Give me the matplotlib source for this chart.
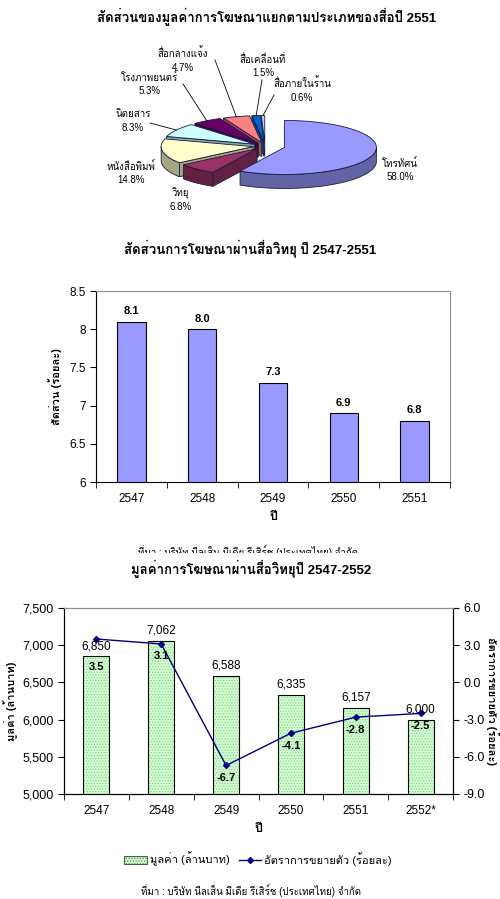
import numpy as np
import matplotlib
matplotlib.use('Agg')
import matplotlib.pyplot as plt
from matplotlib import font_manager
from matplotlib.patches import Polygon, Patch
from matplotlib.lines import Line2D
from matplotlib.colors import to_rgb

# data
pie_labels = ['โทรทัศน์', 'วิทยุ', 'หนังสือพิมพ์', 'นิตยสาร', 'โรงภาพยนตร์',
              'สื่อกลางแจ้ง', 'สื่อเคลื่อนที่', 'สื่อภายในร้าน']
pie_share = [58.0, 6.8, 14.8, 8.3, 5.3, 4.7, 1.5, 0.6]

radio_years = ['2547', '2548', '2549', '2550', '2551']
radio_share = [8.1, 8.0, 7.3, 6.9, 6.8]

value_years = ['2547', '2548', '2549', '2550', '2551', '2552*']
radio_value = [6850, 7062, 6588, 6335, 6157, 6000]
radio_growth = [3.5, 3.1, -6.7, -4.1, -2.8, -2.5]


def find_thai_font():
    try:
        from fontTools.ttLib import TTFont
    except ImportError:
        return None
    found = {}
    for f in font_manager.fontManager.ttflist:
        try:
            tt = TTFont(f.fname, fontNumber=0, lazy=True)
            cmap = tt.getBestCmap() or {}
            tt.close()
        except Exception:
            continue
        if 0x0E01 in cmap and 0x0E2A in cmap:
            w = f.weight if isinstance(f.weight, int) else 400
            found.setdefault(f.name, set()).add(w)
    if not found:
        return None
    pref = ['Tahoma', 'Noto Sans Thai', 'Noto Sans Thai UI', 'Loma', 'Garuda',
            'Sawasdee', 'Umpush', 'Kinnari', 'Norasi']
    bold = [n for n in found if max(found[n]) >= 600]
    for pool in (bold, list(found)):
        for p in pref:
            if p in pool:
                return p
        if pool:
            return sorted(pool)[0]
    return None


thai = find_thai_font()
fams = ['Liberation Sans']
if thai:
    fams.append(thai)
fams.append('DejaVu Sans')
plt.rcParams['font.family'] = fams
plt.rcParams['hatch.linewidth'] = 0.5

W, H = 500, 899
fig = plt.figure(figsize=(W / 100, H / 100), dpi=100)


def fy(y):
    return 1 - y / H


# ---------- panel 1 : 3D pie ----------
axp = fig.add_axes([0, fy(230), 1, 230 / H])
axp.set_xlim(0, W)
axp.set_ylim(230, 0)
axp.axis('off')

axp.text(267, 17, 'สัดส่วนของมูลค่าการโฆษณาแยกตามประเภทของสื่อปี 2551',
         ha='center', va='center', fontsize=9.5, fontweight='bold')

pie_colors = ['#9999FF', '#993366', '#FFFFCC', '#CCFFFF', '#660066',
              '#FF8080', '#0066CC', '#CCCCFF']
cx, cy, rx, ry, depth = 265, 146, 92, 27, 14
explode = [20, 12, 12, 12, 12, 12, 12, 12]
edge = '#1a1a40'


def darker(c, f=0.65):
    return tuple(v * f for v in to_rgb(c))


ang = np.concatenate([[0], np.cumsum(pie_share)]) / sum(pie_share) * 360
sides = []
tops = []
mids = []
for i in range(len(pie_share)):
    a1, a2 = ang[i], ang[i + 1]
    mid = np.radians((a1 + a2) / 2)
    px = cx + explode[i] * np.sin(mid)
    py = cy - explode[i] * np.cos(mid) * ry / rx

    def P(t, dz=0, px=px, py=py):
        t = np.radians(t)
        return (px + rx * np.sin(t), py - ry * np.cos(t) + dz)

    arc = np.linspace(a1, a2, max(int(a2 - a1), 2) + 1)
    tops.append(([(px, py)] + [P(t) for t in arc], pie_colors[i]))
    mids.append(P((a1 + a2) / 2))
    sc = darker(pie_colors[i])
    lo, hi = max(a1, 90), min(a2, 270)
    if hi > lo:
        seg = np.linspace(lo, hi, max(int(hi - lo), 2) + 1)
        wall = [P(t) for t in seg] + [P(t, depth) for t in seg[::-1]]
        sides.append((np.mean([p[1] for p in wall]), wall, sc))
    if np.sin(np.radians(a1)) < -1e-6:
        f = [(px, py), P(a1), P(a1, depth), (px, py + depth)]
        sides.append((np.mean([p[1] for p in f]), f, sc))
    if np.sin(np.radians(a2)) > 1e-6:
        f = [(px, py), P(a2), P(a2, depth), (px, py + depth)]
        sides.append((np.mean([p[1] for p in f]), f, sc))

for key, verts, col in sorted(sides, key=lambda s: s[0]):
    axp.add_patch(Polygon(verts, closed=True, facecolor=col, edgecolor=edge, lw=0.6))
for verts, col in tops:
    axp.add_patch(Polygon(verts, closed=True, facecolor=col, edgecolor=edge, lw=0.6))

label_pos = [(400, 170), (181, 200), (131, 173), (133, 121), (150, 84),
             (183, 60), (263, 66), (302, 90)]
leader_start = [None, None, None, (150, 123), (183, 84), (215, 60), (262, 80), (274, 95)]
for i, lab in enumerate(pie_labels):
    x, y = label_pos[i]
    axp.text(x, y, '%s\n%.1f%%' % (lab, pie_share[i]), ha='center', va='center',
             fontsize=7, linespacing=1.4)
    if leader_start[i] is not None:
        sx, sy = leader_start[i]
        ex, ey = mids[i]
        axp.plot([sx, ex], [sy, ey], color='black', lw=0.6)

# ---------- panel 2 : radio share bars ----------
fig.text(250 / W, fy(248), 'สัดส่วนการโฆษณาผ่านสื่อวิทยุ ปี 2547-2551',
         ha='center', va='center', fontsize=9.5, fontweight='bold')
ax2 = fig.add_axes([96 / W, fy(482), 354 / W, 191 / H])
x2 = np.arange(len(radio_years))
ax2.bar(x2, radio_share, width=0.4, color='#9999FF', edgecolor='black', lw=0.8)
for xi, v in zip(x2, radio_share):
    ax2.annotate('%.1f' % v, (xi, v), xytext=(0, 4), textcoords='offset points',
                 ha='center', va='bottom', fontsize=8, fontweight='bold')
ax2.set_ylim(6, 8.5)
ax2.set_xlim(-0.5, len(radio_years) - 0.5)
ax2.set_yticks([6, 6.5, 7, 7.5, 8, 8.5])
ax2.set_yticklabels(['6', '6.5', '7', '7.5', '8', '8.5'])
ax2.set_xticks(x2)
ax2.set_xticklabels(radio_years)
ax2.set_xticks(np.arange(-0.5, len(radio_years)), minor=True)
ax2.tick_params(axis='x', which='major', length=0, labelsize=8.5, pad=8)
ax2.tick_params(axis='x', which='minor', length=4, direction='out')
ax2.tick_params(axis='y', length=4, direction='out', labelsize=8.5)
for s in ['top', 'right']:
    ax2.spines[s].set_color('#909090')
ax2.set_xlabel('ปี', fontsize=9, fontweight='bold', labelpad=4)
ax2.set_ylabel('สัดส่วน (ร้อยละ)', fontsize=8, fontweight='bold', labelpad=5)

axc = fig.add_axes([0, fy(553), 1, 20 / H])
axc.axis('off')
axc.set_xlim(0, W)
axc.set_ylim(553, 533)
axc.text(248, 551, 'ที่มา : บริษัท นีลเส็น มีเดีย รีเสิร์ช (ประเทศไทย) จำกัด',
         ha='center', va='center', fontsize=7, clip_on=True)

# ---------- panel 3 : radio value and growth ----------
fig.text(251 / W, fy(569), 'มูลค่าการโฆษณาผ่านสื่อวิทยุปี 2547-2552',
         ha='center', va='center', fontsize=9.5, fontweight='bold')
ax3 = fig.add_axes([64 / W, fy(794), 389 / W, 186 / H])
x3 = np.arange(len(value_years))
ax3.bar(x3, radio_value, width=0.4, color='#CCFFCC', edgecolor='#9ABF9A',
        hatch='......', lw=0)
ax3.bar(x3, radio_value, width=0.4, fill=False, edgecolor='black', lw=0.8)
for xi, v in zip(x3, radio_value):
    ax3.annotate('{:,}'.format(v), (xi, v), xytext=(0, 3), textcoords='offset points',
                 ha='center', va='bottom', fontsize=8.5)
ax3.set_ylim(5000, 7500)
ax3.set_xlim(-0.5, len(value_years) - 0.5)
ax3.set_yticks(np.arange(5000, 7501, 500))
ax3.set_yticklabels(['{:,}'.format(v) for v in range(5000, 7501, 500)])
ax3.set_xticks(x3)
ax3.set_xticklabels(value_years)
ax3.set_xticks(np.arange(-0.5, len(value_years)), minor=True)
ax3.tick_params(axis='x', which='major', length=0, labelsize=8.5, pad=8)
ax3.tick_params(axis='x', which='minor', length=4, direction='out')
ax3.tick_params(axis='y', length=4, direction='out', labelsize=9)
ax3.spines['top'].set_color('#909090')
ax3.set_xlabel('ปี', fontsize=9, fontweight='bold', labelpad=4)
ax3.set_ylabel('มูลค่า (ล้านบาท)', fontsize=8, fontweight='bold', labelpad=3)

ax3b = ax3.twinx()
ax3b.plot(x3, radio_growth, color='#000080', lw=1, marker='D', ms=3)
ax3b.set_ylim(-9, 6)
ax3b.set_yticks(np.arange(-9, 7, 3))
ax3b.set_yticklabels(['%.1f' % v for v in np.arange(-9, 7, 3)])
ax3b.tick_params(axis='y', length=4, direction='out', labelsize=9)
ax3b.spines['top'].set_color('#909090')
ax3b.set_ylabel('อัตราการขยายตัว (ร้อยละ)', fontsize=8, fontweight='bold',
                rotation=-90, labelpad=11)
growth_offset = [-20, -9, -9, -9, -9, -9]
for xi, v, off in zip(x3, radio_growth, growth_offset):
    ax3b.annotate('%.1f' % v, (xi, v), xytext=(0, off), textcoords='offset points',
                  ha='center', va='center', fontsize=8, fontweight='bold')

handles = [Patch(facecolor='#CCFFCC', edgecolor='#555555', hatch='......', lw=0.8),
           Line2D([], [], color='#000080', lw=1, marker='D', ms=3)]
fig.legend(handles, ['มูลค่า (ล้านบาท)', 'อัตราการขยายตัว (ร้อยละ)'],
           loc='center', bbox_to_anchor=(258 / W, fy(859)), ncol=2, frameon=False,
           fontsize=8, handlelength=2.0, columnspacing=0.8, handletextpad=0.3)

fig.text(251 / W, fy(890), 'ที่มา : บริษัท นีลเส็น มีเดีย รีเสิร์ช (ประเทศไทย) จำกัด',
         ha='center', va='center', fontsize=7)

fig.savefig('out.png', dpi=100)
